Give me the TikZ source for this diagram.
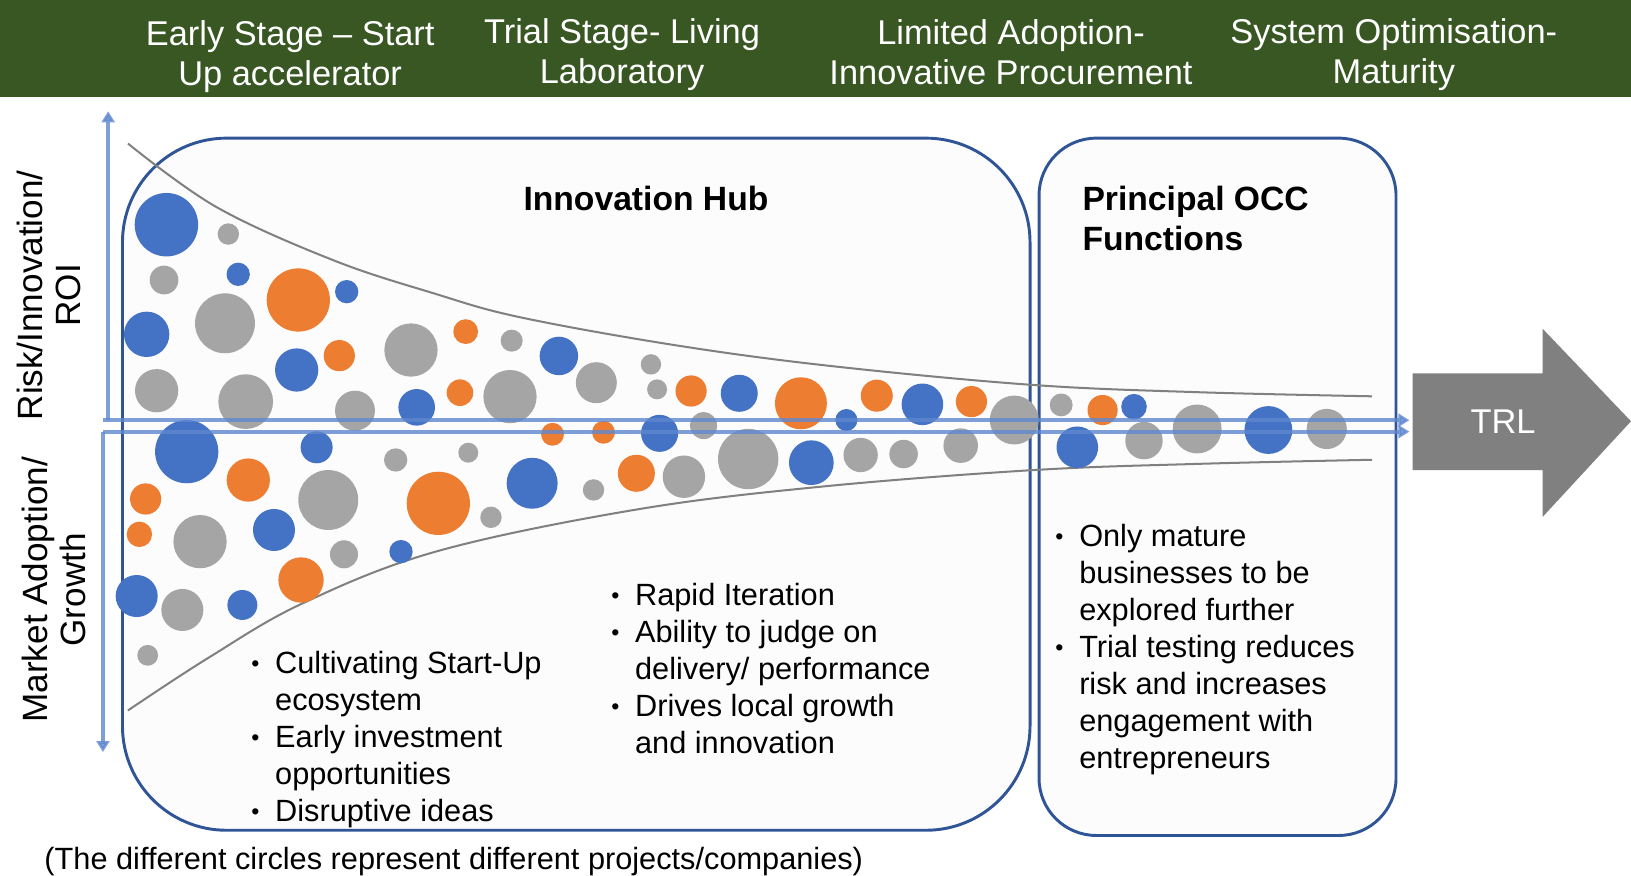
\documentclass[tikz,border=0pt]{standalone}
\usepackage{fontspec}
\setmainfont{Liberation Sans}
\usetikzlibrary{arrows.meta}
\definecolor{hdrgreen}{HTML}{385723}
\definecolor{ofblue}{HTML}{4472C4}
\definecolor{oforange}{HTML}{ED7D31}
\definecolor{ofgray}{HTML}{A5A5A5}
\definecolor{boxblue}{HTML}{2F5597}
\definecolor{axisblue}{HTML}{5F87D0}
\definecolor{funnelgray}{HTML}{808080}
\definecolor{trlgray}{HTML}{808080}
\newcommand{\bul}{\makebox[6.5pt][l]{\raisebox{0.6pt}{\scalebox{0.75}{\textbullet}}}}
\tikzset{
  stagehdr/.style={text=white, align=center, font=\fontsize{9.4}{10.8}\selectfont},
  stagebox/.style={draw=boxblue, line width=0.8pt, fill=black!1, inner sep=0pt},
  boxtitle/.style={font=\bfseries\fontsize{9.2}{11.1}\selectfont, align=left, inner sep=0pt},
  bullets/.style={font=\fontsize{8.4}{10.1}\selectfont, anchor=north west, inner sep=0pt},
  funnel/.style={draw=funnelgray, line width=0.55pt},
  axisline/.style={draw=axisblue, line width=1.1pt, opacity=0.8, -{Triangle[length=3pt,width=3.5pt]}},
  axislabel/.style={rotate=90, align=center, font=\fontsize{9.6}{10.5}\selectfont},
}
\begin{document}
\begin{tikzpicture}[x=0.01cm, y=-0.01cm]
\useasboundingbox (0,0) rectangle (1568,842);
% stage header
\fill[hdrgreen] (0,0) rectangle (1568,93);
\node[stagehdr] (early) at (279,54.5) {Early Stage -- Start\\Up accelerator};
\node[stagehdr] (trial) at (598,52.5) {Trial Stage- Living\\Laboratory};
\node[stagehdr] (limited) at (972,50) {Limited Adoption-\\Innovative Procurement};
\node[stagehdr] (system) at (1340,52.5) {System Optimisation-\\Maturity};
% the two boxes
\node[stagebox, rounded corners=1cm, minimum width=8.72cm, minimum height=6.65cm] (hub) at (554,465.5) {};
\node[stagebox, rounded corners=0.55cm, minimum width=3.43cm, minimum height=6.70cm] (occ) at (1170.5,468) {};
\node[boxtitle] (hubtitle) at (621,191) {Innovation Hub};
\node[boxtitle, anchor=north west] (occtitle) at (1040,178) {Principal OCC\\Functions};
% funnel
\draw[funnel] plot[smooth, tension=0.6] coordinates {(123,138) (208,199) (320,250) (417,282) (500,305) (650,332) (800,352) (992,370) (1150,377) (1319,381)};
\draw[funnel] plot[smooth, tension=0.6] coordinates {(123,683) (201,632) (291,580) (420,530) (611,490) (788,468) (992,452) (1150,446) (1319,442)};
% projects / companies
\foreach \cx/\cy/\cr/\cc in {
  160/216/30.5/ofblue, 219.5/225/10.3/ofgray, 157.7/269.2/13.8/ofgray, 229/263.7/11.2/ofblue,
  286.8/288.4/30.4/oforange, 333.3/280.4/11.2/ofblue, 141/321.4/21.8/ofblue, 216.3/310.8/28.8/ofgray,
  285.2/355.7/20.8/ofblue, 326.2/341.9/15/oforange, 395.1/336.5/25.6/ofgray, 447.7/318.8/11.9/oforange,
  491.9/327.5/10.6/ofgray, 150.6/375.6/20.8/ofgray, 236.2/386.1/26.3/ofgray, 341.3/394.8/19.2/ofgray,
  400.6/391.6/17.6/ofblue, 442.2/377.5/12.8/oforange, 490.3/381.3/25.6/ofgray, 537.3/342.2/18.5/ofblue,
  573.3/367.9/19.7/ofgray, 625.8/350.3/9.8/ofgray, 631.7/374.3/9.6/ofgray, 664.4/375.9/15/oforange,
  710.7/378.1/17.8/ofblue, 770/387.7/25/oforange, 842.9/380.4/15.4/oforange, 886.8/388.7/20/ofblue,
  933.9/386.1/15/oforange, 813.7/403.8/10.6/ofblue, 975.1/403.8/23.5/ofgray, 531.2/417.5/11/oforange,
  580.2/415.6/11/oforange, 634.1/416.6/17.8/ofblue, 676.4/409.2/13/ofgray, 1020.2/389.3/11/ofgray,
  1060/394.2/14.5/oforange, 1090.2/391/12.3/ofblue, 1150.9/412.4/23.5/ofgray, 1219.4/413.4/23/ofblue,
  1275.5/412.4/19.3/ofgray,
  179.5/434.2/30.4/ofblue, 304.4/430/15.4/ofblue, 380.4/442.2/11.2/ofgray, 450.2/435.2/9.6/ofgray,
  140/479.7/15/oforange, 238.7/461.5/20.8/oforange, 315.6/480.7/28.8/ofgray, 421.4/483.9/30.4/oforange,
  472/497.3/10.3/ofgray, 511.6/464.6/24.5/ofblue, 134/513.7/12.2/oforange, 192.3/520.7/25.6/ofgray,
  263.4/509.5/20.2/ofblue, 330.7/532.9/13.5/ofgray, 385.5/530.3/11.2/ofblue, 289.4/557.6/21.8/oforange,
  131.4/573/20.2/ofblue, 175.3/586.4/20.2/ofgray, 233/581.6/14.4/ofblue, 142/630/10/ofgray,
  719.3/441.3/29/ofgray, 780/444.8/21.5/ofblue, 827.4/437.4/16.5/ofgray, 868.7/436.5/13.7/ofgray,
  923.6/428.4/16.6/ofgray, 570.6/471/10.3/ofgray, 611.8/455/17.8/oforange, 657.5/458.3/20.4/ofgray,
  1035.7/430/20/ofblue, 1099.8/423.6/18/ofgray}
  \fill[\cc] (\cx,\cy) circle[radius=\cr];
% axes
\coordinate (ytop) at (104,107);
\coordinate (yup0) at (104,404);
\coordinate (ydn0) at (99,415);
\coordinate (ybot) at (99,723);
\coordinate (h1a) at (99,404);
\coordinate (h1b) at (1355,404);
\coordinate (h2a) at (99,415);
\coordinate (h2b) at (1355,415);
\draw[axisline] (yup0) -- (ytop);
\draw[axisline] (ydn0) -- (ybot);
\draw[axisline] (h1a) -- (h1b);
\draw[axisline] (h2a) -- (h2b);
\node[axislabel] (risklbl) at (47,284) {Risk/Innovation/\\ROI};
\node[axislabel] (marketlbl) at (52,567) {Market Adoption/\\Growth};
% TRL arrow
\fill[trlgray] (1358,359) -- (1483,359) -- (1483,316) -- (1568,405) -- (1483,497) -- (1483,452) -- (1358,452) -- cycle;
\node[text=white, font=\fontsize{9.4}{11}\selectfont] (trl) at (1445,405) {TRL};
% bullet lists
\node[bullets] (startlist) at (241,622) {\begin{tabular}{@{}l@{}l@{}}
  \bul & Cultivating Start-Up\\ & ecosystem\\
  \bul & Early investment\\ & opportunities\\
  \bul & Disruptive ideas\end{tabular}};
\node[bullets] (triallist) at (587,557) {\begin{tabular}{@{}l@{}l@{}}
  \bul & Rapid Iteration\\
  \bul & Ability to judge on\\ & delivery/ performance\\
  \bul & Drives local growth\\ & and innovation\end{tabular}};
\node[bullets] (occlist) at (1014,500) {\begin{tabular}{@{}l@{}l@{}}
  \bul & Only mature\\ & businesses to be\\ & explored further\\
  \bul & Trial testing reduces\\ & risk and increases\\ & engagement with\\ & entrepreneurs\end{tabular}};
\node[anchor=west, inner sep=0pt, font=\fontsize{8.4}{10}\selectfont] (note) at (42,828) {(The different circles represent different projects/companies)};
\end{tikzpicture}
\end{document}
